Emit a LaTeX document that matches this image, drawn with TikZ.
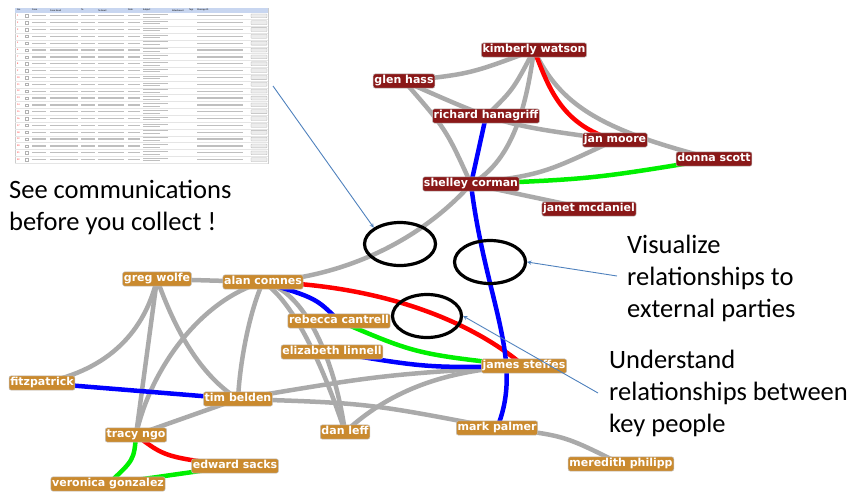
\documentclass[tikz,border=0pt]{standalone}
\usepackage{fontspec}
\setmainfont{Carlito}
\newfontfamily\namefont{DejaVu Sans}
\usetikzlibrary{shapes.geometric, arrows, backgrounds}

\definecolor{execred}{RGB}{138,24,24}
\definecolor{staffgold}{RGB}{202,138,46}
\definecolor{linkgray}{RGB}{170,170,170}
\definecolor{linkred}{RGB}{255,0,0}
\definecolor{linkblue}{RGB}{0,0,255}
\definecolor{linkgreen}{RGB}{0,240,0}
\definecolor{pointblue}{RGB}{79,129,189}
\definecolor{headblue}{RGB}{200,214,240}

\tikzset{
	person/.style={rounded corners=2pt, text=white, draw=white!75!black, line width=0.5pt, font=\namefont\bfseries\fontsize{11}{12}\selectfont, inner xsep=1.2pt, inner ysep=1.8pt, text height=8.2pt, text depth=2.4pt},
	execbox/.style={person, fill=execred},
	staffbox/.style={person, fill=staffgold},
	graylink/.style={line width=4.5pt, linkgray},
	ringmark/.style={ellipse, draw=black, line width=3.2pt, inner sep=0pt, minimum width=71pt, minimum height=43pt},
	pointer/.style={-stealth, draw=pointblue, line width=0.9pt},
	calltext/.style={anchor=base west, inner sep=0pt, font=\fontsize{26.5}{32}\selectfont},
	tinytext/.style={anchor=west, inner sep=0pt, font=\fontsize{2.4}{2.4}\selectfont}
}

\begin{document}
\begin{tikzpicture}[x=1pt, y=-1pt]
				\useasboundingbox (0,0) rectangle (862,491);
				% Screenshot of the message list
				\draw[gray!40, line width=0.3pt] (15,8) rectangle (268,163);
				\fill[headblue] (15,8) rectangle (268,12.5);
				\node[tinytext] (hno) at (17,10.2) {No.};
				\node[tinytext] (hfrom) at (32,10.2) {From};
				\node[tinytext] (hfmail) at (50,10.2) {From Email};
				\node[tinytext] (hto) at (81,10.2) {To};
				\node[tinytext] (htmail) at (98,10.2) {To Email};
				\node[tinytext] (hdate) at (128,10.2) {Date};
				\node[tinytext] (hsubj) at (143,10.2) {Subject};
				\node[tinytext] (hatt) at (172,10.2) {Attachment};
				\node[tinytext] (htags) at (189,10.2) {Tags};
				\node[tinytext] (hmsg) at (197,10.2) {Message ID};
				\foreach \r in {0,...,21} {
					\pgfmathsetmacro\ry{15.8+6.85*\r}
					\pgfmathtruncatemacro\rn{\r+1}
					\node[tinytext, text=red] at (17,\ry) {\rn};
					\draw[gray!60, line width=0.3pt] (25.5,\ry-1.2) rectangle (28,\ry+1.2);
					\draw[gray!50, line width=1.3pt] (32,\ry) -- (46,\ry) (50,\ry) -- (78,\ry) (81,\ry) -- (95,\ry) (98,\ry) -- (124,\ry) (128,\ry) -- (140,\ry) (197,\ry) -- (243,\ry);
					\draw[gray!50, line width=1pt] (143,\ry-1.3) -- (168,\ry-1.3) (143,\ry+1.3) -- (160,\ry+1.3);
					\draw[gray!60, fill=gray!15, line width=0.3pt, rounded corners=0.5pt] (251,\ry-1.9) rectangle (267,\ry+1.9);
					\draw[gray!20, line width=0.2pt] (15,\ry+3.4) -- (268,\ry+3.4);
				}
				% People around shelley corman
				\node[execbox] (kimberly) at (534,50) {kimberly watson};
				\node[execbox] (glen) at (404,81) {glen hass};
				\node[execbox] (richard) at (486,116) {richard hanagriff};
				\node[execbox] (jan) at (615,140) {jan moore};
				\node[execbox] (donna) at (714,159) {donna scott};
				\node[execbox] (shelley) at (471,184) {shelley corman};
				\node[execbox] (janet) at (589,209) {janet mcdaniel};
				% People around alan comnes
				\node[staffbox] (greg) at (157,279) {greg wolfe};
				\node[staffbox] (alan) at (263,282) {alan comnes};
				\node[staffbox] (rebecca) at (339,321) {rebecca cantrell};
				\node[staffbox] (elizabeth) at (332,352) {elizabeth linnell};
				\node[staffbox] (james) at (524,366) {james steffes};
				\node[staffbox] (fitz) at (42,383) {fitzpatrick};
				\node[staffbox] (tim) at (238,399) {tim belden};
				\node[staffbox] (mark) at (497,428) {mark palmer};
				\node[staffbox] (dan) at (345,432) {dan leff};
				\node[staffbox] (tracy) at (136,435) {tracy ngo};
				\node[staffbox] (meredith) at (621,464) {meredith philipp};
				\node[staffbox] (edward) at (235,466) {edward sacks};
				\node[staffbox] (veronica) at (108,484) {veronica gonzalez};
				% Links
				\begin{pgfonlayer}{background}
					\draw[graylink] (kimberly.center) .. controls (470,74) .. (glen.center);
					\draw[graylink] (glen.center) .. controls (503,125) .. (jan.center);
					\draw[graylink] (glen.center) .. controls (446,129) .. (shelley.center);
					\draw[graylink] (kimberly.center) .. controls (513,90) .. (richard.center);
					\draw[graylink] (kimberly.center) .. controls (527,100) and (515,160) .. (shelley.center);
					\draw[graylink] (kimberly.center) .. controls (560,105) and (600,130) .. (donna.center);
					\draw[graylink] (shelley.center) .. controls (543,174) .. (jan.center);
					\draw[graylink] (shelley.center) -- (janet.center);
					\draw[graylink] (shelley.center) .. controls (430,230) and (360,275) .. (alan.center);
					\draw[graylink] (greg.center) -- (alan.center);
					\draw[graylink] (greg.center) .. controls (145,330) and (110,370) .. (fitz.center);
					\draw[graylink] (greg.center) -- (tracy.center);
					\draw[graylink] (alan.center) .. controls (200,300) and (150,370) .. (tracy.center);
					\draw[graylink] (greg.center) .. controls (175,330) and (200,375) .. (tim.center);
					\draw[graylink] (alan.center) .. controls (250,310) and (240,360) .. (tim.center);
					\draw[graylink] (tim.center) -- (tracy.center);
					\draw[graylink] (tim.center) .. controls (381,375) .. (james.center);
					\draw[graylink] (tim.center) .. controls (367,403) .. (mark.center);
					\draw[graylink] (mark.center) .. controls (563,435) .. (meredith.center);
					\draw[graylink] (james.center) .. controls (430,370) and (380,400) .. (dan.center);
					\draw[graylink] (alan.center) .. controls (305,290) and (335,360) .. (dan.center);
					\draw[graylink] (alan.center) .. controls (292,300) and (322,362) .. (dan.center);
					% red
					\draw[graylink, linkred] (kimberly.center) .. controls (548,85) and (560,125) .. (jan.center);
					\draw[graylink, linkred] (alan.center) .. controls (380,285) and (470,320) .. (james.center);
					\draw[graylink, linkred] (tracy.center) .. controls (165,457) .. (edward.center);
					% blue
					\draw[graylink, linkblue] (richard.center) -- (shelley.center);
					\draw[graylink, linkblue] (shelley.center) .. controls (485,300) and (525,360) .. (mark.center);
					\draw[graylink, linkblue] (fitz.center) -- (tim.center);
					\draw[graylink, linkblue] (alan.center) .. controls (316,298) .. (rebecca.center);
					\draw[graylink, linkblue] (elizabeth.center) .. controls (428,368) .. (james.center);
					% green
					\draw[graylink, linkgreen] (shelley.center) .. controls (592,179) .. (donna.center);
					\draw[graylink, linkgreen] (rebecca.center) .. controls (416,354) .. (james.center);
					\draw[graylink, linkgreen] (tracy.center) .. controls (134,460) .. (veronica.center);
					\draw[graylink, linkgreen] (veronica.center) -- (edward.center);
				\end{pgfonlayer}
				% Circled spots
				\node[ringmark] (ring1) at (400,244) {};
				\node[ringmark] (ring2) at (490,262) {};
				\node[ringmark, minimum width=69pt] (ring3) at (427,316) {};
				% Captions
				\node[calltext] (see1) at (9,198) {See communications};
				\node[calltext] (see2) at (9,230) {before you collect !};
				\node[calltext] (viz1) at (627,253) {Visualize};
				\node[calltext] (viz2) at (627,285) {relationships to};
				\node[calltext] (viz3) at (627,317) {external parties};
				\node[calltext] (key1) at (609,368) {Understand};
				\node[calltext] (key2) at (609,400) {relationships between};
				\node[calltext] (key3) at (609,432) {key people};
				% Pointers
				\coordinate (shotfoot) at (273,86);
				\coordinate (vizfoot) at (617,276);
				\coordinate (keyfoot) at (598,393);
				\draw[pointer] (shotfoot) -- (ring1.north west);
				\draw[pointer] (vizfoot) -- (ring2.east);
				\draw[pointer] (keyfoot) -- (ring3.east);
			\end{tikzpicture}
\end{document}
